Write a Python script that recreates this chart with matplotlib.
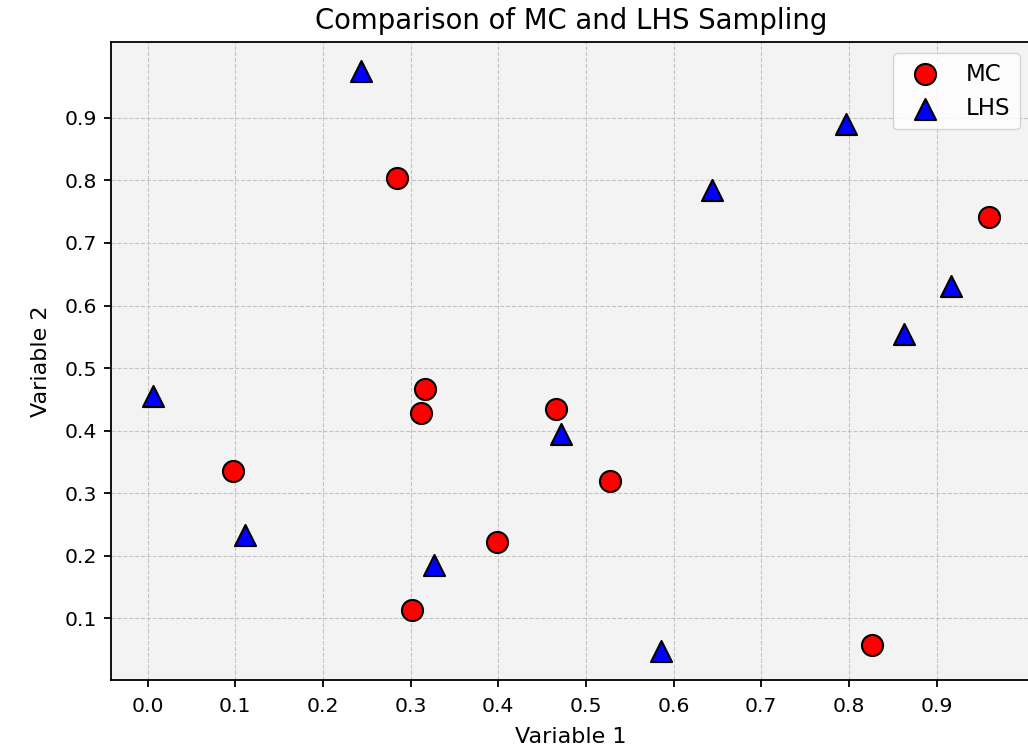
import numpy as np
import matplotlib
matplotlib.use('Agg')
import matplotlib.pyplot as plt

# Monte Carlo samples
mc_x = [0.285, 0.960, 0.316, 0.312, 0.466, 0.097, 0.527, 0.398, 0.302, 0.826]
mc_y = [0.804, 0.742, 0.467, 0.429, 0.435, 0.335, 0.320, 0.222, 0.114, 0.058]

# Latin hypercube samples
lhs_x = [0.243, 0.797, 0.644, 0.916, 0.863, 0.006, 0.472, 0.111, 0.327, 0.586]
lhs_y = [0.975, 0.890, 0.785, 0.632, 0.554, 0.455, 0.395, 0.234, 0.186, 0.048]

ticks = np.round(np.arange(0.0, 1.0, 0.1), 1)

fig, ax = plt.subplots(figsize=(10.28, 7.48), dpi=100)
# the right spine sits just past the edge of the picture
fig.subplots_adjust(left=0.108, right=1.003, top=0.944, bottom=0.091)
ax.set_facecolor('#f3f3f3')

ax.scatter(mc_x, mc_y, s=230, c='red', marker='o', edgecolors='black', linewidths=1.5, label='MC', zorder=3)
ax.scatter(lhs_x, lhs_y, s=230, c='blue', marker='^', edgecolors='black', linewidths=1.5, label='LHS', zorder=3)

ax.set_xticks(ticks)
ax.set_yticks(ticks[1:])
ax.tick_params(labelsize=14.7, length=5, width=1.3)
ax.tick_params(axis='x', pad=7.3)
ax.tick_params(axis='y', pad=5)
for sp in ax.spines.values():
    sp.set_linewidth(1.3)
ax.grid(True, linestyle='--', color='#c4c4c4', linewidth=0.8)
ax.set_axisbelow(True)

ax.set_xlabel('Variable 1', fontsize=16, labelpad=8)
ax.set_ylabel('Variable 2', fontsize=16, labelpad=10)
ax.set_title('Comparison of MC and LHS Sampling', fontsize=19.8, pad=9)
ax.legend(loc='upper right', fontsize=16.5)

fig.savefig('out.png')
